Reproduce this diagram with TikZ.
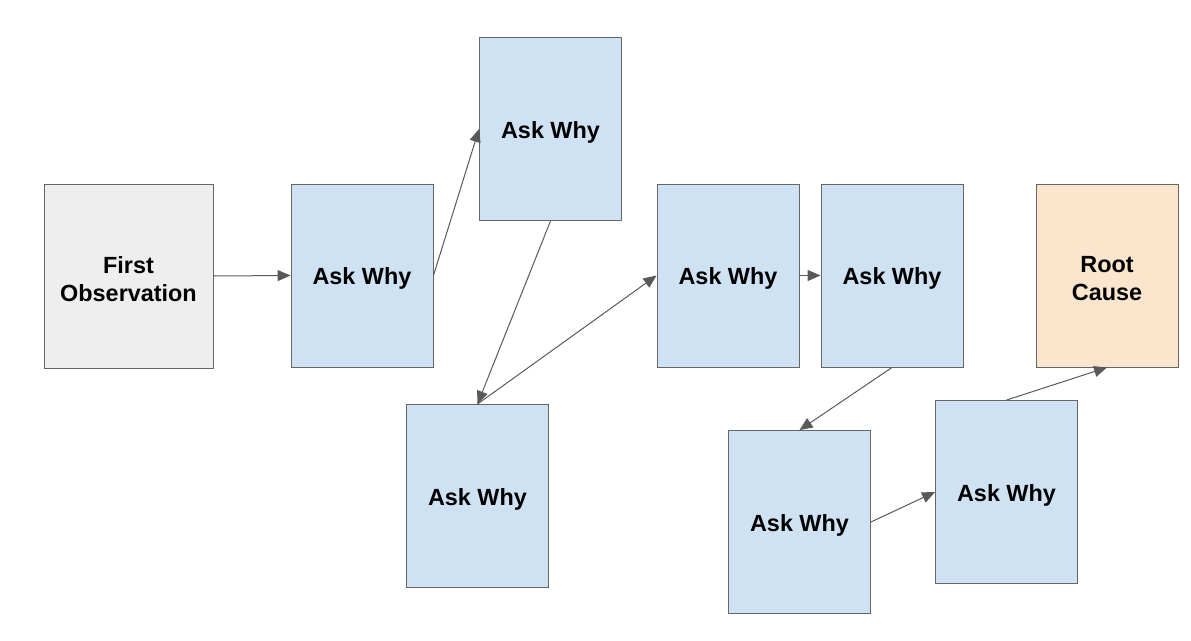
\documentclass[tikz,border=0pt]{standalone}
\usepackage{fontspec}
\setmainfont{Liberation Sans}
\usetikzlibrary{arrows.meta}
\definecolor{boxblue}{HTML}{CFE2F3}
\definecolor{boxgray}{HTML}{EEEEEE}
\definecolor{boxpeach}{HTML}{FCE5CD}
\definecolor{edgegray}{HTML}{666666}
\definecolor{arrowgray}{HTML}{595959}
\tikzset{
  box/.style={draw=edgegray, line width=0.9pt, minimum width=142pt, minimum height=183pt,
    inner sep=0pt},
  boxtext/.style={label={[yshift=-3pt, align=center, inner sep=0pt,
    font=\fontsize{23.4}{28}\selectfont\bfseries, text=black]center:#1}},
  whybox/.style={box, fill=boxblue, boxtext={Ask Why}},
  conn/.style={draw=arrowgray, line width=1pt, -{Triangle[length=13pt,width=11pt]}}
}
\begin{document}
\begin{tikzpicture}[x=1pt,y=-1pt]
\useasboundingbox (0,0) rectangle (1191,640);
\node[box, fill=boxgray, minimum width=169pt, minimum height=184pt, boxtext={First\\Observation}] (fo) at (128.5,276) {};
\node[whybox] (a) at (362,275.5) {};
\node[whybox] (b) at (550.5,129) {};
\node[whybox] (c) at (477.5,496) {};
\node[whybox] (d) at (728,275.5) {};
\node[whybox] (e) at (892,275.5) {};
\node[whybox] (f) at (799.5,522) {};
\node[whybox] (g) at (1006.5,492) {};
\node[box, fill=boxpeach, boxtext={Root\\Cause}] (r) at (1107,275.5) {};
\draw[conn] (fo.east) -- (a.west);
\draw[conn] (a.east) -- (b.west);
\draw[conn] (b.south) -- (c.north);
\draw[conn] (c.north) -- (d.west);
\draw[conn] (d.east) -- (e.west);
\draw[conn] (e.south) -- (f.north);
\draw[conn] (f.east) -- (g.west);
\draw[conn] (g.north) -- (r.south);
\end{tikzpicture}
\end{document}
